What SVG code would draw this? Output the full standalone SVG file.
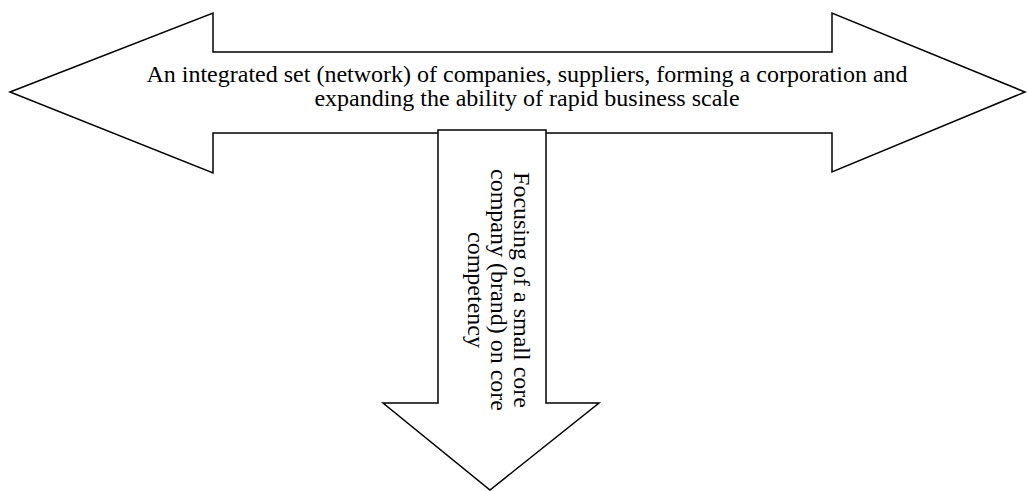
<svg xmlns="http://www.w3.org/2000/svg" width="1027" height="491" viewBox="0 0 1027 491">
  <style>
    .shape { fill: #ffffff; stroke: #000000; stroke-width: 1.5; stroke-linejoin: miter; }
    .label { font-family: "Liberation Serif", "Times New Roman", serif; font-size: 24px; fill: #000000; text-anchor: middle; }
  </style>
  <rect width="1027" height="491" fill="#ffffff"/>
  <g id="network-arrow">
    <path class="shape" d="M10,92 L213,13 L213,52 L832,52 L832,13 L1025,92 L832,172 L832,133 L213,133 L213,173 Z"/>
    <text class="label" x="527" y="82">An integrated set (network) of companies, suppliers, forming a corporation and</text>
    <text class="label" x="527" y="106">expanding the ability of rapid business scale</text>
  </g>
  <g id="core-arrow">
    <path class="shape" d="M438,130 L546,130 L546,403 L599,403 L490,490 L383,403 L438,403 Z"/>
    <g transform="translate(0,290) rotate(90)">
      <text class="label" x="0" y="-514">Focusing of a small core</text>
      <text class="label" x="0" y="-491">company (brand) on core</text>
      <text class="label" x="0" y="-468">competency</text>
    </g>
  </g>
  <g id="connectors"/>
</svg>
